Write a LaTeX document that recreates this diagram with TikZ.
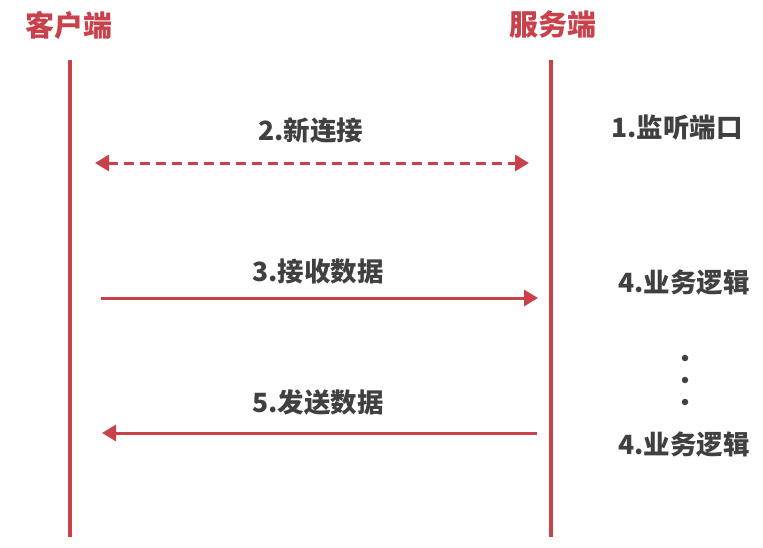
\documentclass[tikz,border=0pt]{standalone}
\usepackage{fontspec}
\newfontfamily\cjk{Noto Sans CJK SC}
\usetikzlibrary{arrows.meta, positioning}

\definecolor{lineRed}{HTML}{C8414B}
\definecolor{textGray}{HTML}{404040}

\begin{document}
\begin{tikzpicture}[
  x=1pt, y=-1pt,
  title/.style={font=\cjk\bfseries\fontsize{29}{29}\selectfont, text=lineRed, inner sep=0pt},
  label/.style={font=\cjk\bfseries\fontsize{26.5}{26.5}\selectfont, text=textGray, inner sep=0pt},
  lifeline/.style={draw=lineRed, line width=3.2pt},
  msg/.style={draw=lineRed, line width=3pt, -{Triangle[length=14pt,width=16pt]}},
  dotmark/.style={circle, fill=textGray, inner sep=0pt, minimum size=6.5pt}
]
\useasboundingbox (0,0) rectangle (763,547);

% titles
\node[title] (client) at (69,25) {客户端};
\node[title] (server) at (553,25) {服务端};

% lifelines
\coordinate (cTop) at (70,60);
\coordinate (cBot) at (70,537);
\coordinate (sTop) at (551,60);
\coordinate (sBot) at (551,537);
\draw[lifeline] (cTop) -- (cBot);
\draw[lifeline] (sTop) -- (sBot);

% messages
\coordinate (conA) at (95,163);
\coordinate (conB) at (529,163);
\draw[msg, {Triangle[length=14pt,width=16pt]}-{Triangle[length=14pt,width=16pt]}, dash pattern=on 10pt off 6pt] (conA) -- (conB);
\node[label] (connect) at (311,131) {2.新连接};

\coordinate (recvA) at (101,298);
\coordinate (recvB) at (538,298);
\draw[msg] (recvA) -- (recvB);
\node[label] (recv) at (318,271) {3.接收数据};

\coordinate (sendA) at (537,433);
\coordinate (sendB) at (102,433);
\draw[msg] (sendA) -- (sendB);
\node[label] (send) at (318,402) {5.发送数据};

% server side steps
\node[label] (listen) at (677,128) {1.监听端口};
\node[label] (logicA) at (684,283) {4.业务逻辑};
\foreach \y [count=\i] in {358,380,402}
  \node[dotmark] (dot\i) at (685,\y) {};
\node[label] (logicB) at (684,445) {4.业务逻辑};
\end{tikzpicture}
\end{document}
